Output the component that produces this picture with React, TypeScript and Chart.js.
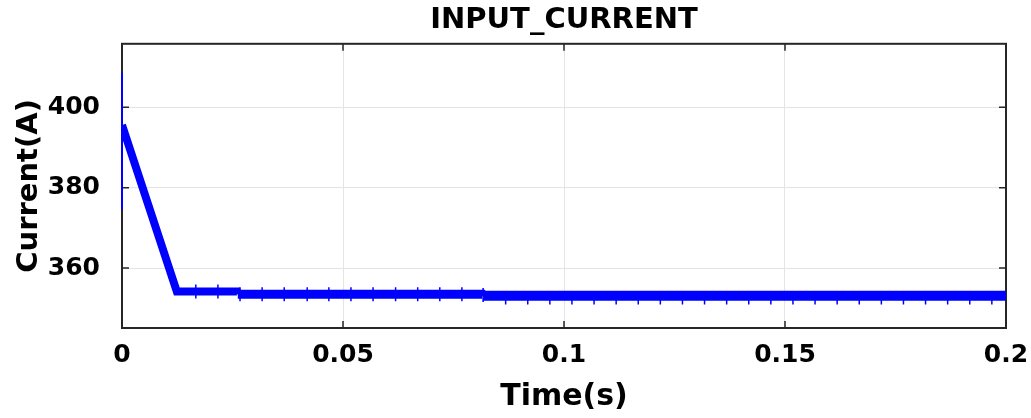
import React, { useEffect, useRef } from 'react';
import { Chart, registerables } from 'chart.js';

Chart.register(...registerables);

const TITLE = 'INPUT_CURRENT';
const X_LABEL = 'Time(s)';
const Y_LABEL = 'Current(A)';

const X_TICKS = [0, 0.05, 0.1, 0.15, 0.2];
const X_TICK_LABELS = ['0', '0.05', '0.1', '0.15', '0.2'];
const Y_TICKS = [360, 380, 400];
const Y_TICK_LABELS = ['360', '380', '400'];
const X_MIN = 0;
const X_MAX = 0.2;
const Y_MIN = 345.1;
const Y_MAX = 415.8;

// Input current (band centre)
const CURRENT_TIME = [0, 0.0124, 0.026, 0.0262, 0.0815, 0.0817, 0.2];
const CURRENT_VALUE = [395.6, 354.2, 354.2, 353.5, 353.5, 353.1, 353.1];

// Initial spike at t = 0
const SPIKE_TIME = [0, 0];
const SPIKE_VALUE = [408.6, 374.5];

// Small switching spikes that cross the band (both sides) before ~0.082 s
const GLITCH_BOTH_TIME = [0.0167, 0.0217, 0.0267, 0.0317, 0.0367, 0.0419, 0.0468, 0.0518, 0.0568, 0.0619, 0.0669, 0.0719, 0.0769, 0.0817];
const GLITCH_BOTH_VALUE = [354.2, 354.2, 353.5, 353.5, 353.5, 353.5, 353.5, 353.5, 353.5, 353.5, 353.5, 353.5, 353.5, 353.3];
// Spikes below the band only, after ~0.082 s
const GLITCH_LOW_TIME = [0.0868, 0.0918, 0.0968, 0.1018, 0.1068, 0.1118, 0.1168, 0.1218, 0.1268, 0.1318, 0.1368, 0.1418, 0.1468, 0.1518, 0.1568, 0.1618, 0.1668, 0.1718, 0.1768, 0.1818, 0.1868, 0.1918, 0.1968];
const GLITCH_LOW_VALUE = [351.8, 351.8, 351.8, 351.8, 351.8, 351.8, 351.8, 351.8, 351.8, 351.8, 351.8, 351.8, 351.8, 351.8, 351.8, 351.8, 351.8, 351.8, 351.8, 351.8, 351.8, 351.8, 351.8];

const FONT = 'DejaVu Sans';
const BLUE = 'rgb(0,0,255)';
const FRAME = '#262626';

const framePlugin = {
  id: 'frameTicks',
  beforeDatasetsDraw(chart: any) {
    const { ctx, chartArea, scales } = chart;
    const { left, right, top, bottom } = chartArea;
    const x = scales.x;
    const y = scales.y;
    ctx.save();
    ctx.strokeStyle = FRAME;
    ctx.lineWidth = 2;
    ctx.strokeRect(left, top, right - left, bottom - top);
    ctx.lineWidth = 1.5;
    const L = 7;
    ctx.beginPath();
    X_TICKS.forEach((v) => {
      const px = x.getPixelForValue(v);
      ctx.moveTo(px, bottom);
      ctx.lineTo(px, bottom - L);
      ctx.moveTo(px, top);
      ctx.lineTo(px, top + L);
    });
    Y_TICKS.forEach((v) => {
      const py = y.getPixelForValue(v);
      ctx.moveTo(left, py);
      ctx.lineTo(left + L, py);
      ctx.moveTo(right, py);
      ctx.lineTo(right - L, py);
    });
    ctx.stroke();
    ctx.restore();
  },
};

export default function App() {
  const ref = useRef<HTMLCanvasElement | null>(null);

  useEffect(() => {
    document.body.style.margin = '0';
    const canvas = ref.current;
    if (!canvas) return;
    const chart = new Chart(canvas, {
      type: 'line',
      data: {
        datasets: [
          {
            label: 'spike',
            data: SPIKE_TIME.map((t, i) => ({ x: t, y: SPIKE_VALUE[i] })),
            borderColor: BLUE,
            borderWidth: 2,
            pointRadius: 0,
            fill: false,
            clip: false as any,
          },
          {
            label: 'current',
            data: CURRENT_TIME.map((t, i) => ({ x: t, y: CURRENT_VALUE[i] })),
            borderColor: BLUE,
            borderWidth: 8,
            pointRadius: 0,
            fill: false,
            borderJoinStyle: 'miter',
            borderCapStyle: 'butt',
            segment: {
              borderWidth: (ctx: any) => (ctx.p0.parsed.x >= 0.0817 ? 10 : ctx.p0.parsed.x >= 0.0262 ? 9 : 8),
            },
          },
          {
            label: 'glitch both',
            type: 'scatter' as any,
            data: GLITCH_BOTH_TIME.map((t, i) => ({ x: t, y: GLITCH_BOTH_VALUE[i] })),
            showLine: false,
            pointStyle: 'line',
            rotation: 90,
            pointRadius: 7,
            borderColor: BLUE,
            backgroundColor: BLUE,
            pointBorderWidth: 1.5,
          },
          {
            label: 'glitch low',
            type: 'scatter' as any,
            data: GLITCH_LOW_TIME.map((t, i) => ({ x: t, y: GLITCH_LOW_VALUE[i] })),
            showLine: false,
            pointStyle: 'line',
            rotation: 90,
            pointRadius: 3.5,
            borderColor: BLUE,
            backgroundColor: BLUE,
            pointBorderWidth: 1.5,
          },
        ],
      },
      options: {
        responsive: false,
        animation: false,
        devicePixelRatio: 1,
        layout: { padding: { left: 0, right: 25, top: 0, bottom: 0 } },
        plugins: {
          legend: { display: false },
          tooltip: { enabled: false },
          title: {
            display: true,
            fullSize: false,
            text: TITLE,
            color: '#000',
            font: { family: FONT, size: 29, weight: 'bold', lineHeight: 1.2 },
            padding: { top: 3, bottom: 6 },
          },
        },
        scales: {
          x: {
            type: 'linear',
            min: X_MIN,
            max: X_MAX,
            afterFit: (s: any) => {
              s.height = 90;
              s.paddingLeft = 0;
              s.paddingRight = 0;
            },
            afterBuildTicks: (s: any) => {
              s.ticks = X_TICKS.map((v) => ({ value: v }));
            },
            ticks: {
              color: '#000',
              padding: 12,
              maxRotation: 0,
              autoSkip: false,
              font: { family: FONT, size: 25, weight: 'bold' },
              callback: (v: any) => X_TICK_LABELS[X_TICKS.indexOf(Number(v))] ?? '',
            },
            grid: { color: '#e4e4e4', lineWidth: 1, drawTicks: false },
            border: { display: false },
            title: {
              display: true,
              text: X_LABEL,
              color: '#000',
              font: { family: FONT, size: 30, weight: 'bold', lineHeight: 1.2 },
              padding: { top: 0, bottom: 3 },
            },
          },
          y: {
            type: 'linear',
            min: Y_MIN,
            max: Y_MAX,
            afterFit: (s: any) => {
              s.width = 122;
              s.paddingTop = 0;
              s.paddingBottom = 0;
            },
            afterBuildTicks: (s: any) => {
              s.ticks = Y_TICKS.map((v) => ({ value: v }));
            },
            ticks: {
              color: '#000',
              padding: 22,
              autoSkip: false,
              font: { family: FONT, size: 25, weight: 'bold' },
              callback: (v: any) => Y_TICK_LABELS[Y_TICKS.indexOf(Number(v))] ?? '',
            },
            grid: { color: '#e4e4e4', lineWidth: 1, drawTicks: false },
            border: { display: false },
            title: {
              display: true,
              text: Y_LABEL,
              color: '#000',
              font: { family: FONT, size: 29, weight: 'bold', lineHeight: 1.2 },
              padding: { top: 12, bottom: 0 },
            },
          },
        },
      },
      plugins: [framePlugin],
    });
    return () => chart.destroy();
  }, []);

  return (
    <div style={{ width: 1031, height: 418, background: '#fff' }}>
      <canvas ref={ref} width={1031} height={418} style={{ display: 'block' }} />
    </div>
  );
}
